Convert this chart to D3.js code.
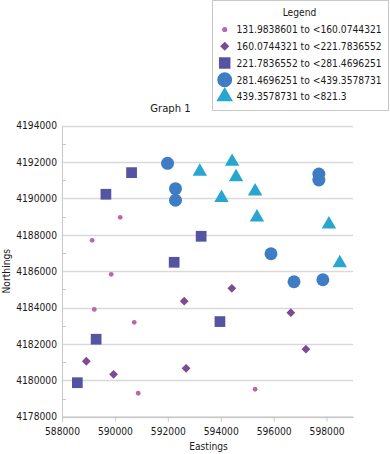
<!DOCTYPE html>
<html><head><meta charset="utf-8">
<script src="https://cdn.jsdelivr.net/npm/d3@7"></script>
<style>
body{margin:0;background:#fff;}
svg{display:block;}
text{font-family:"DejaVu Sans Condensed","DejaVu Sans",sans-serif;font-size:10.2px;fill:#1a1a1a;}
</style></head>
<body><svg id="c" width="390" height="454"></svg>
<script>
const title = "Graph 1";
const xLabel = "Eastings";
const yLabel = "Northings";
const legendTitle = "Legend";
const classLabels = ["131.9838601 to <160.0744321","160.0744321 to <221.7836552","221.7836552 to <281.4696251","281.4696251 to <439.3578731","439.3578731 to <821.3"];
const classColors = ["#ba66aa","#7d4b91","#5454a2","#3e7cc4","#29a6d0"];
const classShapes = ["smallCircle","diamond","square","circle","triangle"];
const xTicks = [588000,590000,592000,594000,596000,598000];
const yTicks = [4178000,4180000,4182000,4184000,4186000,4188000,4190000,4192000,4194000];
const yMinorTicks = [4179000,4181000,4183000,4185000,4187000,4189000,4191000,4193000];

const class1E = [589140,590200,589860,589220,590730,590880,595300];
const class1N = [4187700,4188960,4185830,4183900,4183190,4179290,4179510];
const class2E = [588920,589950,592620,592690,594420,596650,597220];
const class2N = [4181050,4180330,4184350,4180660,4185060,4183720,4181710];
const class3E = [589660,590630,592240,593260,593970,589290,588580];
const class3N = [4190230,4191420,4186490,4187920,4183230,4182260,4179870];
const class4E = [591990,592290,592290,597710,597710,595900,596770,597860];
const class4N = [4191930,4190540,4189900,4191345,4191015,4186960,4185420,4185530];
const class5E = [593210,594430,594580,594030,595300,595370,598090,598500];
const class5N = [4191480,4192020,4191180,4190030,4190390,4188960,4188580,4186440];

const seriesE = [class1E,class2E,class3E,class4E,class5E];
const seriesN = [class1N,class2N,class3N,class4N,class5N];

const svg = d3.select("#c");
const L = 62, R = 353, T = 125.7, B = 416.7;
const x = d3.scaleLinear().domain([588000,599000]).range([L,R]);
const y = d3.scaleLinear().domain([4178000,4194000]).range([B,T]);

// gridlines
svg.append("g").selectAll("line").data(yTicks).join("line")
  .attr("x1",L).attr("x2",R)
  .attr("y1",d=>Math.round(y(d))+0.5).attr("y2",d=>Math.round(y(d))+0.5)
  .attr("stroke","#d9d9d9").attr("stroke-width",1.5);

// y axis
const yAxis = d3.axisLeft(y).tickValues(yTicks).tickFormat(d3.format("d")).tickSize(0).tickPadding(5);
const gy = svg.append("g").attr("transform",`translate(${L},0)`).call(yAxis);
gy.select(".domain").attr("stroke","#c8c8c8");
gy.selectAll("text").attr("fill","#1a1a1a");
svg.append("g").selectAll("line").data(yMinorTicks).join("line")
  .attr("x1",L).attr("x2",L+4)
  .attr("y1",d=>Math.round(y(d))+0.5).attr("y2",d=>Math.round(y(d))+0.5)
  .attr("stroke","#c8c8c8");

// x axis
const xAxis = d3.axisBottom(x).tickValues(xTicks).tickFormat(d3.format("d")).tickSize(5).tickSizeOuter(0).tickPadding(6);
const gx = svg.append("g").attr("transform",`translate(0,${B})`).call(xAxis);
gx.select(".domain").attr("stroke","#c8c8c8").attr("stroke-width",1.5);
gx.selectAll(".tick line").attr("stroke","#c8c8c8");
gx.selectAll("text").attr("fill","#1a1a1a");
svg.selectAll(".tick text").attr("font-family",null).attr("font-size",null);

// titles
svg.append("text").attr("x",170.5).attr("y",112).attr("text-anchor","middle")
  .style("font-size","11.2px").text(title);
svg.append("text").attr("x",(L+R)/2+1).attr("y",450).attr("text-anchor","middle").text(xLabel);
svg.append("text").attr("transform",`translate(9.5,${(T+B)/2}) rotate(-90)`).attr("text-anchor","middle").text(yLabel);

function shapePath(shape, big){
  const k = big ? 1.15 : 1;
  switch(shape){
    case "smallCircle": return d3.symbol(d3.symbolCircle, 18*k)();
    case "diamond": { const h = 4.4*(big?1.05:1); return `M0,${-h}L${h},0L0,${h}L${-h},0Z`; }
    case "square": return d3.symbol(d3.symbolSquare, 115*k)();
    case "circle": return d3.symbol(d3.symbolCircle, 132*k*k)();
    case "triangle": return d3.symbol(d3.symbolTriangle, 90*k*k)();
  }
}

// points
seriesE.forEach((es,i)=>{
  svg.append("g").selectAll("path").data(es.map((e,j)=>[e,seriesN[i][j]])).join("path")
    .attr("d",shapePath(classShapes[i],false))
    .attr("transform",d=>`translate(${x(d[0])},${y(d[1])})`)
    .attr("fill",classColors[i]);
});

// legend
const lg = svg.append("g");
lg.append("rect").attr("x",212.5).attr("y",0.5).attr("width",176).attr("height",110)
  .attr("fill","#fff").attr("stroke","#c8c8c8");
lg.append("text").attr("x",299.5).attr("y",16).attr("text-anchor","middle").text(legendTitle);
const rowY = d3.scalePoint().domain(d3.range(classLabels.length)).range([29.5,96.5]);
classLabels.forEach((lab,i)=>{
  lg.append("path").attr("d",shapePath(classShapes[i],true))
    .attr("transform",`translate(224.7,${rowY(i)})`).attr("fill",classColors[i]);
  lg.append("text").attr("x",236.5).attr("y",rowY(i)+3.8).text(lab);
});
</script></body></html>
